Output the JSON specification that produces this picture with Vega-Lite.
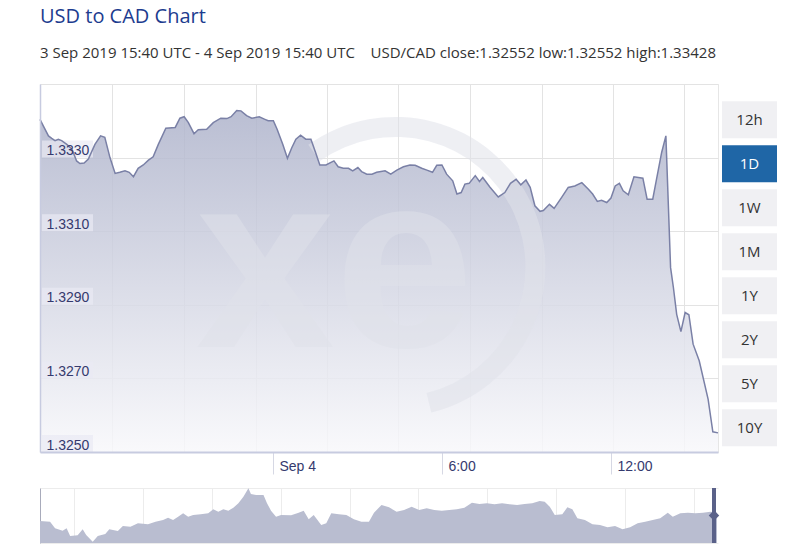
{
  "$schema": "https://vega.github.io/schema/vega-lite/v6.json",
  "background": "white",
  "padding": {"left": 36, "top": 6, "right": 0, "bottom": 0},
  "config": {
    "view": {"stroke": null},
    "axis": {"labelFont": "Liberation Sans", "titleFont": "Liberation Sans"}
  },
  "title": {
    "text": "USD to CAD Chart",
    "subtitle": "3 Sep 2019 15:40 UTC - 4 Sep 2019 15:40 UTC\u00a0\u00a0\u00a0 USD/CAD close:1.32552 low:1.32552 high:1.33428",
    "anchor": "start",
    "frame": "group",
    "font": "Open Sans",
    "fontSize": 20,
    "fontWeight": "normal",
    "color": "#1d3c8f",
    "subtitleFont": "Open Sans",
    "subtitleFontSize": 15,
    "subtitleColor": "#333333",
    "subtitlePadding": 19,
    "offset": 23
  },
  "datasets": {
    "usdcad": [
      {"t": "2019-09-03T15:44:00Z", "v": 1.33404},
      {"t": "2019-09-03T15:51:00Z", "v": 1.33386},
      {"t": "2019-09-03T16:02:00Z", "v": 1.33359},
      {"t": "2019-09-03T16:09:00Z", "v": 1.33352},
      {"t": "2019-09-03T16:16:00Z", "v": 1.33346},
      {"t": "2019-09-03T16:23:00Z", "v": 1.3335},
      {"t": "2019-09-03T16:30:00Z", "v": 1.33346},
      {"t": "2019-09-03T16:41:00Z", "v": 1.33336},
      {"t": "2019-09-03T16:52:00Z", "v": 1.33323},
      {"t": "2019-09-03T17:02:00Z", "v": 1.33291},
      {"t": "2019-09-03T17:09:00Z", "v": 1.33284},
      {"t": "2019-09-03T17:18:00Z", "v": 1.33285},
      {"t": "2019-09-03T17:27:00Z", "v": 1.33296},
      {"t": "2019-09-03T17:41:00Z", "v": 1.33336},
      {"t": "2019-09-03T17:53:00Z", "v": 1.33359},
      {"t": "2019-09-03T18:02:00Z", "v": 1.33355},
      {"t": "2019-09-03T18:13:00Z", "v": 1.333},
      {"t": "2019-09-03T18:24:00Z", "v": 1.33257},
      {"t": "2019-09-03T18:34:00Z", "v": 1.3326},
      {"t": "2019-09-03T18:45:00Z", "v": 1.33264},
      {"t": "2019-09-03T18:54:00Z", "v": 1.3326},
      {"t": "2019-09-03T19:03:00Z", "v": 1.33248},
      {"t": "2019-09-03T19:13:00Z", "v": 1.33271},
      {"t": "2019-09-03T19:24:00Z", "v": 1.3328},
      {"t": "2019-09-03T19:35:00Z", "v": 1.33293},
      {"t": "2019-09-03T19:45:00Z", "v": 1.33302},
      {"t": "2019-09-03T19:56:00Z", "v": 1.33336},
      {"t": "2019-09-03T20:12:00Z", "v": 1.3338},
      {"t": "2019-09-03T20:32:00Z", "v": 1.33382},
      {"t": "2019-09-03T20:42:00Z", "v": 1.33407},
      {"t": "2019-09-03T20:51:00Z", "v": 1.33411},
      {"t": "2019-09-03T21:00:00Z", "v": 1.33395},
      {"t": "2019-09-03T21:12:00Z", "v": 1.33365},
      {"t": "2019-09-03T21:21:00Z", "v": 1.33376},
      {"t": "2019-09-03T21:39:00Z", "v": 1.33377},
      {"t": "2019-09-03T21:53:00Z", "v": 1.33395},
      {"t": "2019-09-03T22:09:00Z", "v": 1.33407},
      {"t": "2019-09-03T22:22:00Z", "v": 1.33406},
      {"t": "2019-09-03T22:31:00Z", "v": 1.33411},
      {"t": "2019-09-03T22:43:00Z", "v": 1.33428},
      {"t": "2019-09-03T22:52:00Z", "v": 1.33427},
      {"t": "2019-09-03T23:04:00Z", "v": 1.33414},
      {"t": "2019-09-03T23:15:00Z", "v": 1.33407},
      {"t": "2019-09-03T23:31:00Z", "v": 1.33411},
      {"t": "2019-09-03T23:43:00Z", "v": 1.33404},
      {"t": "2019-09-03T23:50:00Z", "v": 1.334},
      {"t": "2019-09-04T00:01:00Z", "v": 1.334},
      {"t": "2019-09-04T00:09:00Z", "v": 1.33377},
      {"t": "2019-09-04T00:21:00Z", "v": 1.33336},
      {"t": "2019-09-04T00:31:00Z", "v": 1.33298},
      {"t": "2019-09-04T00:40:00Z", "v": 1.33326},
      {"t": "2019-09-04T00:49:00Z", "v": 1.3335},
      {"t": "2019-09-04T00:59:00Z", "v": 1.33361},
      {"t": "2019-09-04T01:10:00Z", "v": 1.3335},
      {"t": "2019-09-04T01:21:00Z", "v": 1.3335},
      {"t": "2019-09-04T01:30:00Z", "v": 1.33317},
      {"t": "2019-09-04T01:40:00Z", "v": 1.3328},
      {"t": "2019-09-04T01:53:00Z", "v": 1.3328},
      {"t": "2019-09-04T02:10:00Z", "v": 1.33291},
      {"t": "2019-09-04T02:19:00Z", "v": 1.33275},
      {"t": "2019-09-04T02:30:00Z", "v": 1.33271},
      {"t": "2019-09-04T02:41:00Z", "v": 1.33271},
      {"t": "2019-09-04T02:50:00Z", "v": 1.33264},
      {"t": "2019-09-04T03:01:00Z", "v": 1.33273},
      {"t": "2019-09-04T03:09:00Z", "v": 1.33262},
      {"t": "2019-09-04T03:20:00Z", "v": 1.33255},
      {"t": "2019-09-04T03:31:00Z", "v": 1.33255},
      {"t": "2019-09-04T03:41:00Z", "v": 1.3326},
      {"t": "2019-09-04T03:59:00Z", "v": 1.33264},
      {"t": "2019-09-04T04:11:00Z", "v": 1.33255},
      {"t": "2019-09-04T04:24:00Z", "v": 1.33266},
      {"t": "2019-09-04T04:38:00Z", "v": 1.33275},
      {"t": "2019-09-04T04:52:00Z", "v": 1.3328},
      {"t": "2019-09-04T05:03:00Z", "v": 1.33279},
      {"t": "2019-09-04T05:17:00Z", "v": 1.33271},
      {"t": "2019-09-04T05:28:00Z", "v": 1.33266},
      {"t": "2019-09-04T05:40:00Z", "v": 1.3326},
      {"t": "2019-09-04T05:49:00Z", "v": 1.33279},
      {"t": "2019-09-04T06:00:00Z", "v": 1.3328},
      {"t": "2019-09-04T06:10:00Z", "v": 1.33255},
      {"t": "2019-09-04T06:23:00Z", "v": 1.33237},
      {"t": "2019-09-04T06:32:00Z", "v": 1.33201},
      {"t": "2019-09-04T06:41:00Z", "v": 1.33205},
      {"t": "2019-09-04T06:49:00Z", "v": 1.33228},
      {"t": "2019-09-04T06:58:00Z", "v": 1.3323},
      {"t": "2019-09-04T07:11:00Z", "v": 1.33251},
      {"t": "2019-09-04T07:20:00Z", "v": 1.33235},
      {"t": "2019-09-04T07:27:00Z", "v": 1.33246},
      {"t": "2019-09-04T07:42:00Z", "v": 1.3322},
      {"t": "2019-09-04T08:00:00Z", "v": 1.33193},
      {"t": "2019-09-04T08:14:00Z", "v": 1.33205},
      {"t": "2019-09-04T08:26:00Z", "v": 1.3323},
      {"t": "2019-09-04T08:38:00Z", "v": 1.33241},
      {"t": "2019-09-04T08:48:00Z", "v": 1.33226},
      {"t": "2019-09-04T08:59:00Z", "v": 1.33239},
      {"t": "2019-09-04T09:08:00Z", "v": 1.33219},
      {"t": "2019-09-04T09:18:00Z", "v": 1.33169},
      {"t": "2019-09-04T09:29:00Z", "v": 1.33154},
      {"t": "2019-09-04T09:36:00Z", "v": 1.33156},
      {"t": "2019-09-04T09:49:00Z", "v": 1.33173},
      {"t": "2019-09-04T09:59:00Z", "v": 1.33162},
      {"t": "2019-09-04T10:15:00Z", "v": 1.33192},
      {"t": "2019-09-04T10:29:00Z", "v": 1.33219},
      {"t": "2019-09-04T10:43:00Z", "v": 1.33223},
      {"t": "2019-09-04T10:58:00Z", "v": 1.33232},
      {"t": "2019-09-04T11:12:00Z", "v": 1.33214},
      {"t": "2019-09-04T11:21:00Z", "v": 1.33201},
      {"t": "2019-09-04T11:31:00Z", "v": 1.33181},
      {"t": "2019-09-04T11:40:00Z", "v": 1.33184},
      {"t": "2019-09-04T11:51:00Z", "v": 1.33178},
      {"t": "2019-09-04T12:00:00Z", "v": 1.3319},
      {"t": "2019-09-04T12:09:00Z", "v": 1.33223},
      {"t": "2019-09-04T12:18:00Z", "v": 1.3323},
      {"t": "2019-09-04T12:26:00Z", "v": 1.3321},
      {"t": "2019-09-04T12:37:00Z", "v": 1.33199},
      {"t": "2019-09-04T12:49:00Z", "v": 1.33248},
      {"t": "2019-09-04T13:08:00Z", "v": 1.33244},
      {"t": "2019-09-04T13:17:00Z", "v": 1.33187},
      {"t": "2019-09-04T13:29:00Z", "v": 1.33187},
      {"t": "2019-09-04T13:37:00Z", "v": 1.33241},
      {"t": "2019-09-04T13:48:00Z", "v": 1.33314},
      {"t": "2019-09-04T13:57:00Z", "v": 1.33359},
      {"t": "2019-09-04T14:07:00Z", "v": 1.33001},
      {"t": "2019-09-04T14:13:00Z", "v": 1.32947},
      {"t": "2019-09-04T14:20:00Z", "v": 1.32874},
      {"t": "2019-09-04T14:29:00Z", "v": 1.32827},
      {"t": "2019-09-04T14:38:00Z", "v": 1.32879},
      {"t": "2019-09-04T14:46:00Z", "v": 1.32873},
      {"t": "2019-09-04T14:55:00Z", "v": 1.32793},
      {"t": "2019-09-04T15:08:00Z", "v": 1.32748},
      {"t": "2019-09-04T15:27:00Z", "v": 1.32643},
      {"t": "2019-09-04T15:37:00Z", "v": 1.32555},
      {"t": "2019-09-04T15:48:00Z", "v": 1.32552}
    ],
    "ylabels": [{"v": 1.325}, {"v": 1.327}, {"v": 1.329}, {"v": 1.331}, {"v": 1.333}],
    "watermark": [{"t": "2019-09-04T02:12:00Z", "v": 1.32784, "text": "xe"}],
    "ring": [{"t": "2019-09-04T04:21:00Z", "v": 1.33003}],
    "navigator": [
      {"day": 0, "v": 1.294}, {"day": 20, "v": 1.2927}, {"day": 30, "v": 1.2793}, {"day": 45, "v": 1.2747},
      {"day": 53, "v": 1.2793}, {"day": 60, "v": 1.264}, {"day": 75, "v": 1.2653}, {"day": 85, "v": 1.2773},
      {"day": 92, "v": 1.266}, {"day": 105, "v": 1.2527}, {"day": 115, "v": 1.264}, {"day": 130, "v": 1.268},
      {"day": 138, "v": 1.2773}, {"day": 155, "v": 1.274}, {"day": 165, "v": 1.284}, {"day": 180, "v": 1.2827},
      {"day": 195, "v": 1.2893}, {"day": 215, "v": 1.2873}, {"day": 230, "v": 1.2927}, {"day": 245, "v": 1.296},
      {"day": 255, "v": 1.3007}, {"day": 265, "v": 1.296}, {"day": 275, "v": 1.3027}, {"day": 285, "v": 1.3093},
      {"day": 295, "v": 1.3027}, {"day": 305, "v": 1.306}, {"day": 320, "v": 1.3073}, {"day": 335, "v": 1.3093},
      {"day": 345, "v": 1.3173}, {"day": 355, "v": 1.3127}, {"day": 365, "v": 1.3173}, {"day": 375, "v": 1.3147},
      {"day": 385, "v": 1.3207}, {"day": 395, "v": 1.3293}, {"day": 405, "v": 1.3427}, {"day": 415, "v": 1.3593},
      {"day": 420, "v": 1.348}, {"day": 430, "v": 1.346}, {"day": 445, "v": 1.346}, {"day": 452, "v": 1.3293},
      {"day": 460, "v": 1.3147}, {"day": 470, "v": 1.3027}, {"day": 480, "v": 1.306}, {"day": 500, "v": 1.3053},
      {"day": 515, "v": 1.3107}, {"day": 525, "v": 1.3147}, {"day": 535, "v": 1.2973}, {"day": 545, "v": 1.306},
      {"day": 560, "v": 1.286}, {"day": 570, "v": 1.2893}, {"day": 580, "v": 1.3093}, {"day": 595, "v": 1.3073},
      {"day": 610, "v": 1.306}, {"day": 625, "v": 1.2973}, {"day": 640, "v": 1.2927}, {"day": 655, "v": 1.2927},
      {"day": 665, "v": 1.3107}, {"day": 680, "v": 1.326}, {"day": 695, "v": 1.3213}, {"day": 710, "v": 1.3127},
      {"day": 725, "v": 1.316}, {"day": 740, "v": 1.3227}, {"day": 755, "v": 1.316}, {"day": 770, "v": 1.3193},
      {"day": 785, "v": 1.316}, {"day": 800, "v": 1.3147}, {"day": 815, "v": 1.316}, {"day": 830, "v": 1.3173},
      {"day": 845, "v": 1.3207}, {"day": 860, "v": 1.3307}, {"day": 875, "v": 1.328}, {"day": 890, "v": 1.3293},
      {"day": 905, "v": 1.3273}, {"day": 920, "v": 1.3293}, {"day": 935, "v": 1.3273}, {"day": 950, "v": 1.326},
      {"day": 965, "v": 1.328}, {"day": 980, "v": 1.3293}, {"day": 995, "v": 1.334}, {"day": 1005, "v": 1.3327},
      {"day": 1015, "v": 1.3227}, {"day": 1025, "v": 1.306}, {"day": 1040, "v": 1.3073}, {"day": 1050, "v": 1.3213},
      {"day": 1060, "v": 1.3173}, {"day": 1070, "v": 1.2993}, {"day": 1085, "v": 1.296}, {"day": 1100, "v": 1.2873},
      {"day": 1115, "v": 1.286}, {"day": 1130, "v": 1.2813}, {"day": 1145, "v": 1.284}, {"day": 1160, "v": 1.2773},
      {"day": 1175, "v": 1.2813}, {"day": 1190, "v": 1.2893}, {"day": 1205, "v": 1.2927}, {"day": 1220, "v": 1.296},
      {"day": 1235, "v": 1.2993}, {"day": 1250, "v": 1.3107}, {"day": 1260, "v": 1.3027}, {"day": 1275, "v": 1.3093},
      {"day": 1290, "v": 1.3107}, {"day": 1305, "v": 1.3093}, {"day": 1320, "v": 1.3107}, {"day": 1335, "v": 1.3127},
      {"day": 1348, "v": 1.3107}
    ],
    "handle": [{"day": 1342, "v": 1.305}],
    "buttons": [
      {"label": "12h", "sel": 0}, {"label": "1D", "sel": 1}, {"label": "1W", "sel": 0}, {"label": "1M", "sel": 0},
      {"label": "1Y", "sel": 0}, {"label": "2Y", "sel": 0}, {"label": "5Y", "sel": 0}, {"label": "10Y", "sel": 0}
    ]
  },
  "hconcat": [
    {
      "vconcat": [
        {
          "width": 678,
          "height": 368,
          "view": {"stroke": "#e6e6e6"},
          "layer": [
            {
              "data": {"name": "usdcad"},
              "mark": {
                "type": "area",
                "opacity": 0.85,
                "color": {
                  "gradient": "linear", "x1": 0, "y1": 0, "x2": 0, "y2": 1,
                  "stops": [{"offset": 0, "color": "#aeb3cb"}, {"offset": 1, "color": "#f8f8fb"}]
                }
              },
              "encoding": {
                "x": {
                  "field": "t", "type": "temporal",
                  "scale": {"type": "utc", "domain": [
                    {"year": 2019, "month": 9, "date": 3, "hours": 15, "minutes": 44, "utc": true},
                    {"year": 2019, "month": 9, "date": 4, "hours": 15, "minutes": 48, "utc": true}
                  ]},
                  "axis": {
                    "orient": "bottom",
                    "values": [
                      {"year": 2019, "month": 9, "date": 3, "hours": 18, "minutes": 17, "utc": true},
                      {"year": 2019, "month": 9, "date": 3, "hours": 20, "minutes": 51, "utc": true},
                      {"year": 2019, "month": 9, "date": 3, "hours": 23, "minutes": 24, "utc": true},
                      {"year": 2019, "month": 9, "date": 4, "hours": 1, "minutes": 55, "utc": true},
                      {"year": 2019, "month": 9, "date": 4, "hours": 4, "minutes": 26, "utc": true},
                      {"year": 2019, "month": 9, "date": 4, "hours": 7, "minutes": 0, "utc": true},
                      {"year": 2019, "month": 9, "date": 4, "hours": 9, "minutes": 33, "utc": true},
                      {"year": 2019, "month": 9, "date": 4, "hours": 12, "minutes": 4, "utc": true},
                      {"year": 2019, "month": 9, "date": 4, "hours": 14, "minutes": 36, "utc": true}
                    ],
                    "grid": true, "gridColor": "#e3e3e3", "gridWidth": 1,
                    "labels": false, "ticks": false, "domain": false, "title": null
                  }
                },
                "y": {
                  "field": "v", "type": "quantitative",
                  "scale": {"domain": [1.325, 1.335], "zero": false, "nice": false},
                  "axis": {
                    "orient": "left",
                    "values": [1.325, 1.327, 1.329, 1.331, 1.333, 1.335],
                    "grid": true, "gridColor": "#e3e3e3",
                    "labels": false, "ticks": false, "domain": false, "title": null
                  }
                },
                "y2": {"datum": 1.325}
              }
            },
            {
              "data": {"name": "ring"},
              "mark": {"type": "arc", "radius": 150, "radius2": 130, "theta": -0.62, "theta2": 2.9, "color": "#e0e2ea", "opacity": 0.55},
              "encoding": {
                "x": {"field": "t", "type": "temporal", "axis": null},
                "y": {"field": "v", "type": "quantitative", "axis": null}
              }
            },
            {
              "data": {"name": "watermark"},
              "mark": {"type": "text", "font": "Liberation Sans", "fontWeight": "bold", "fontSize": 250, "align": "center", "baseline": "alphabetic", "color": "#e0e2ea", "opacity": 0.5},
              "encoding": {
                "x": {"field": "t", "type": "temporal", "axis": null},
                "y": {"field": "v", "type": "quantitative", "axis": null},
                "text": {"field": "text"}
              }
            },
            {
              "data": {"name": "ylabels"},
              "mark": {"type": "rect", "width": 51, "height": 17, "xOffset": 27.5, "yOffset": -8.5, "color": "#e9eaf3", "opacity": 0.7},
              "encoding": {
                "x": {"datum": {"year": 2019, "month": 9, "date": 3, "hours": 15, "minutes": 44, "utc": true}, "type": "temporal", "axis": null},
                "y": {"field": "v", "type": "quantitative", "axis": null}
              }
            },
            {
              "data": {"name": "usdcad"},
              "mark": {"type": "line", "color": "#7a80a6", "strokeWidth": 1.5},
              "encoding": {
                "x": {
                  "field": "t", "type": "temporal",
                  "axis": {
                    "orient": "bottom",
                    "values": [
                      {"year": 2019, "month": 9, "date": 4, "hours": 0, "minutes": 0, "utc": true},
                      {"year": 2019, "month": 9, "date": 4, "hours": 6, "minutes": 0, "utc": true},
                      {"year": 2019, "month": 9, "date": 4, "hours": 12, "minutes": 0, "utc": true}
                    ],
                    "labelExpr": "utchours(datum.value) == 0 ? utcFormat(datum.value, '%b %-d') : utcFormat(datum.value, '%-H:%M')",
                    "grid": false,
                    "ticks": true, "tickSize": 22, "tickColor": "#d6d8e4",
                    "domain": true, "domainColor": "#c7cbe0", "domainWidth": 2,
                    "labelAlign": "left", "labelOffset": 6, "labelPadding": -8, "labelBaseline": "middle",
                    "labelFontSize": 14, "labelColor": "#353a6e",
                    "title": null, "zindex": 1
                  }
                },
                "y": {
                  "field": "v", "type": "quantitative",
                  "axis": {
                    "orient": "left",
                    "values": [1.325, 1.327, 1.329, 1.331, 1.333],
                    "format": ".4f",
                    "grid": false,
                    "ticks": false,
                    "domain": true, "domainColor": "#c7cbe0", "domainWidth": 1.5,
                    "labelAlign": "left", "labelPadding": -6, "labelBaseline": "alphabetic",
                    "labelOffset": -3,
                    "labelFontSize": 14, "labelColor": "#353a6e",
                    "title": null, "zindex": 1
                  }
                }
              }
            }
          ],
          "resolve": {"axis": {"x": "independent", "y": "independent"}}
        },
        {
          "width": 678,
          "height": 55,
          "layer": [
            {
              "data": {"name": "navigator"},
              "mark": {"type": "area", "color": "#b9bdd0", "opacity": 1},
              "encoding": {
                "x": {
                  "field": "day", "type": "quantitative",
                  "scale": {"domain": [0, 1350], "nice": false, "zero": false},
                  "axis": {
                    "values": [68.5, 137, 205.5, 274, 342.5, 411, 479.5, 548, 616.5, 685, 753.5, 822, 890.5, 959, 1027.5, 1096, 1164.5, 1233, 1301.5],
                    "grid": true, "gridColor": "#ececec",
                    "labels": false, "ticks": false, "domain": false, "title": null
                  }
                },
                "y": {
                  "field": "v", "type": "quantitative",
                  "scale": {"domain": [1.25, 1.36], "zero": false, "nice": false},
                  "axis": {
                    "values": [1.25, 1.272, 1.294, 1.316, 1.338, 1.36],
                    "grid": true, "gridColor": "#ececec",
                    "labels": false, "ticks": false,
                    "domain": true, "domainColor": "#a8abbb", "domainWidth": 1,
                    "title": null
                  }
                },
                "y2": {"datum": 1.25}
              }
            },
            {
              "data": {"name": "handle"},
              "mark": {"type": "rule", "color": "#5a6189", "strokeWidth": 4},
              "encoding": {"x": {"field": "day", "type": "quantitative"}}
            },
            {
              "data": {"name": "handle"},
              "mark": {"type": "point", "shape": "diamond", "filled": true, "color": "#5a6189", "size": 110, "opacity": 1},
              "encoding": {
                "x": {"field": "day", "type": "quantitative"},
                "y": {"field": "v", "type": "quantitative"}
              }
            }
          ]
        }
      ],
      "spacing": 11
    },
    {
      "width": 55,
      "height": 368,
      "data": {"name": "buttons"},
      "layer": [
        {
          "mark": {"type": "bar"},
          "encoding": {
            "y": {
              "field": "label", "type": "nominal", "sort": null,
              "scale": {"paddingInner": 0.16, "paddingOuter": 0.26, "align": 0.75},
              "axis": null
            },
            "color": {"condition": {"test": "datum.sel == 1", "value": "#1f66a6"}, "value": "#f0f0f3"}
          }
        },
        {
          "mark": {"type": "text", "font": "Open Sans", "fontSize": 15},
          "encoding": {
            "y": {"field": "label", "type": "nominal", "sort": null},
            "text": {"field": "label"},
            "color": {"condition": {"test": "datum.sel == 1", "value": "#ffffff"}, "value": "#333333"}
          }
        }
      ]
    }
  ],
  "spacing": 0
}
